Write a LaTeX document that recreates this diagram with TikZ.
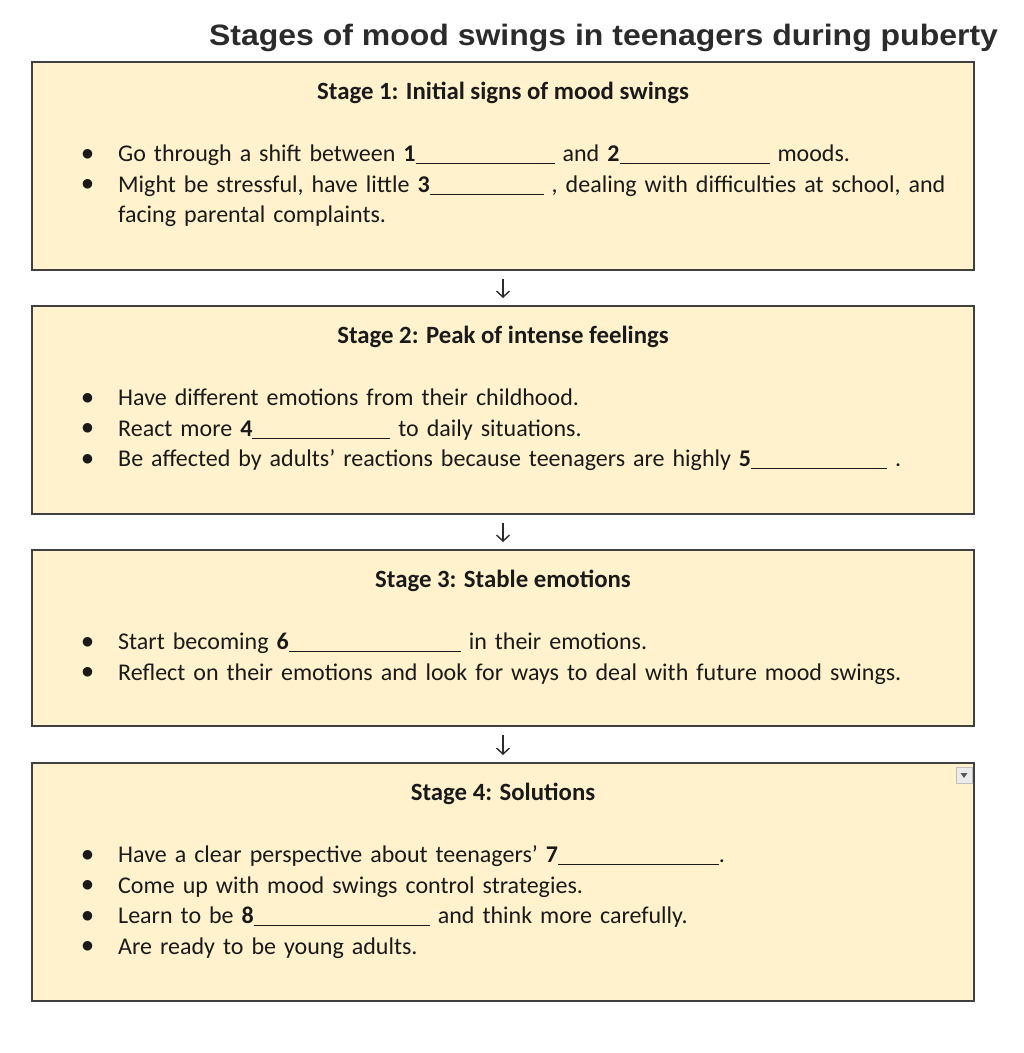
\documentclass[tikz,border=0pt]{standalone}
\usepackage{fontspec}
\setmainfont{Carlito}
\newfontfamily\titlefont{Liberation Sans}
\newfontfamily\dotfont{DejaVu Sans}
\usetikzlibrary{calc}
\usetikzlibrary{positioning}
\usetikzlibrary{arrows.meta}
\definecolor{boxfill}{HTML}{FFF2CC}
\definecolor{boxline}{HTML}{404040}
\definecolor{inktext}{HTML}{1A1A1A}
\definecolor{titleink}{HTML}{2B2B2B}
\newcommand{\blank}[1]{\rule[-2.5pt]{#1}{0.9pt}}
\newcommand{\dotmark}{\makebox[38pt][l]{\hspace{2pt}\raisebox{4.5pt}{\dotfont\fontsize{12.5}{12.5}\selectfont ●}}}
\newcommand{\firstitm}[1]{\noindent\dotmark\parbox[t]{850pt}{\raggedright #1}}
\newcommand{\itm}[1]{\par\noindent\dotmark\parbox[t]{850pt}{\raggedright #1}}

\begin{document}
\begin{tikzpicture}[x=1pt, y=1pt, ->, >={Straight Barb[length=6pt,width=13pt]}, node distance=36pt]
    \tikzstyle{stagebox}=[-, draw=boxline, line width=1.6pt, fill=boxfill, minimum width=942pt, outer sep=0pt, inner sep=0pt]
    \tikzstyle{stagehead}=[text=inktext, font=\bfseries\fontsize{24.8}{28}\selectfont, inner sep=0pt, anchor=base]
    \tikzstyle{stagelist}=[text=inktext, font=\fontsize{24}{30.6}\selectfont, text width=900pt, align=left, inner sep=0pt, anchor=base west]
    \tikzstyle{every edge}=[draw=titleink, line width=1.4pt, xshift=2pt]
    \useasboundingbox (0,0) rectangle (1024,-1053);
    \node[text=titleink, font=\titlefont\bfseries\fontsize{29.5}{34}\selectfont, inner sep=0pt, anchor=base] (title) at (603.5,-45) {\scalebox{1.084}[1]{Stages of mood swings in teenagers during puberty}};
    % the four stages
    \node[stagebox, minimum height=208pt] (s1) at (503,-166) {};
    \node[stagebox, minimum height=208pt] (s2) [below=of s1] {};
    \node[stagebox, minimum height=176pt] (s3) [below=of s2] {};
    \node[stagebox, minimum height=238pt] (s4) [below=37pt of s3] {};
    \node[stagehead] (h1) at ($(s1.north)+(0,-37)$) {Stage 1: Initial signs of mood swings};
    \node[stagehead] (h2) at ($(s2.north)+(0,-37)$) {Stage 2: Peak of intense feelings};
    \node[stagehead] (h3) at ($(s3.north)+(0,-37)$) {Stage 3: Stable emotions};
    \node[stagehead] (h4) at ($(s4.north)+(0,-37)$) {Stage 4: Solutions};
    \node[stagelist] (l1) at ($(s1.north west)+(48,-99.5)$) {%
      \firstitm{Go through a shift between \textbf{1}\blank{139pt} and \textbf{2}\blank{150pt} moods.}
      \itm{Might be stressful, have little \textbf{3}\blank{114pt} , dealing with difficulties at school, and\\ facing parental complaints.}};
    \node[stagelist] (l2) at ($(s2.north west)+(48,-99.5)$) {%
      \firstitm{Have different emotions from their childhood.}
      \itm{React more \textbf{4}\blank{138pt} to daily situations.}
      \itm{Be affected by adults’ reactions because teenagers are highly \textbf{5}\blank{136pt} .}};
    \node[stagelist] (l3) at ($(s3.north west)+(48,-99.5)$) {%
      \firstitm{Start becoming \textbf{6}\blank{172pt} in their emotions.}
      \itm{Reflect on their emotions and look for ways to deal with future mood swings.}};
    \node[stagelist] (l4) at ($(s4.north west)+(48,-99.5)$) {%
      \firstitm{Have a clear perspective about teenagers’ \textbf{7}\blank{161pt}.}
      \itm{Come up with mood swings control strategies.}
      \itm{Learn to be \textbf{8}\blank{176pt} and think more carefully.}
      \itm{Are ready to be young adults.}};
    % small drop-down mark
    \filldraw[-, fill=black!8, draw=black!25, line width=0.6pt] (956,-767) rectangle (972,-783);
    \fill[-, black!65] (960.5,-773) -- (967.5,-773) -- (964,-778) -- cycle;
    \path
    (s1) edge[shorten <=9pt, shorten >=8pt] (s2)
    (s2) edge[shorten <=9pt, shorten >=8pt] (s3)
    (s3) edge[shorten <=9pt, shorten >=8pt] (s4);
\end{tikzpicture}
\end{document}
